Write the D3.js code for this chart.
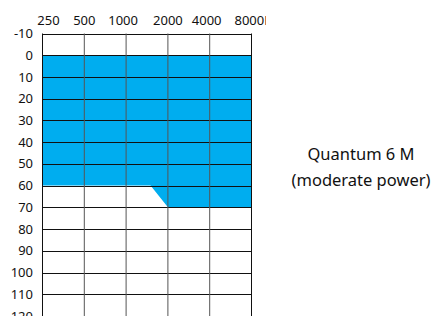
<!DOCTYPE html>
<html>
<head>
<meta charset="utf-8">
<script src="https://cdn.jsdelivr.net/npm/d3@7"></script>
<style>
  body { margin: 0; background: #fff; }
  text { font-family: "Noto Sans", sans-serif; fill: #111; }
</style>
</head>
<body>
<div id="vis"></div>
<script>
var w = 436, h = 316;

// audiogram frame
var freqs = [250, 500, 1000, 2000, 4000, 8000],
    freqLabels = ["250", "500", "1000", "2000", "4000", "8000Hz"],
    dbTicks = [-10, 0, 10, 20, 30, 40, 50, 60, 70, 80, 90, 100, 110, 120];

// fitting range (hearing loss, dB HL)
var rangeFreqs = [250, 500, 1000, 1500, 2000, 4000, 8000],
    rangeLoss = [60, 60, 60, 60, 70, 70, 70];

var title = ["Quantum 6 M", "(moderate power)"];

var x = d3.scaleLog().base(2).domain([250, 8000]).range([42.5, 251.5]),
    y = d3.scaleLinear().domain([-10, 120]).range([33.5, 316]);

var svg = d3.select("#vis").append("svg")
    .attr("width", w)
    .attr("height", h);

svg.append("defs").append("clipPath")
    .attr("id", "topclip")
  .append("rect")
    .attr("x", 0).attr("y", 0)
    .attr("width", 266).attr("height", 30);

// white plot background
svg.append("rect")
    .attr("x", x(250)).attr("y", y(-10))
    .attr("width", x(8000) - x(250))
    .attr("height", y(120) - y(-10))
    .attr("fill", "#fff");

// blue area: from 0 dB down to the max loss
var area = d3.area()
    .x(function(d) { return x(d); })
    .y0(function() { return y(0); })
    .y1(function(d, i) { return y(rangeLoss[i]); });

svg.append("path")
    .datum(rangeFreqs)
    .attr("d", area)
    .attr("fill", "#00adef");

// horizontal grid
svg.append("g")
  .selectAll("line")
    .data(dbTicks)
  .enter().append("line")
    .attr("x1", x(250)).attr("x2", x(8000))
    .attr("y1", function(d) { return Math.round(y(d)) + 0.5; })
    .attr("y2", function(d) { return Math.round(y(d)) + 0.5; })
    .attr("stroke", "#111")
    .attr("stroke-width", 1);

// vertical grid
svg.append("g")
  .selectAll("line")
    .data(freqs)
  .enter().append("line")
    .attr("x1", function(d) { return x(d); })
    .attr("x2", function(d) { return x(d); })
    .attr("y1", y(-10)).attr("y2", y(120))
    .attr("stroke", function(d, i) { return (i === 0 || i === freqs.length - 1) ? "#111" : "#555"; })
    .attr("stroke-width", 1);

// y labels
svg.append("g")
  .selectAll("text")
    .data(dbTicks)
  .enter().append("text")
    .attr("x", 33)
    .attr("y", function(d) { return y(d); })
    .attr("dy", "0.35em")
    .attr("text-anchor", "end")
    .style("font-size", "13px")
    .text(function(d) { return d; });

// x labels (top); the last one runs past the clip like the original
var nudge = [6, 0, -3, 0, -3, -17];
svg.append("g")
    .attr("clip-path", "url(#topclip)")
  .selectAll("text")
    .data(freqs)
  .enter().append("text")
    .attr("x", function(d, i) { return x(d) + nudge[i]; })
    .attr("y", 25)
    .attr("text-anchor", function(d, i) { return i === freqs.length - 1 ? "start" : "middle"; })
    .style("font-size", "13px")
    .text(function(d, i) { return freqLabels[i]; });

// device name
svg.append("g")
  .selectAll("text")
    .data(title)
  .enter().append("text")
    .attr("x", 361)
    .attr("y", function(d, i) { return 160 + i * 26; })
    .attr("text-anchor", "middle")
    .style("font-size", "16.5px")
    .text(function(d) { return d; });
</script>
</body>
</html>
